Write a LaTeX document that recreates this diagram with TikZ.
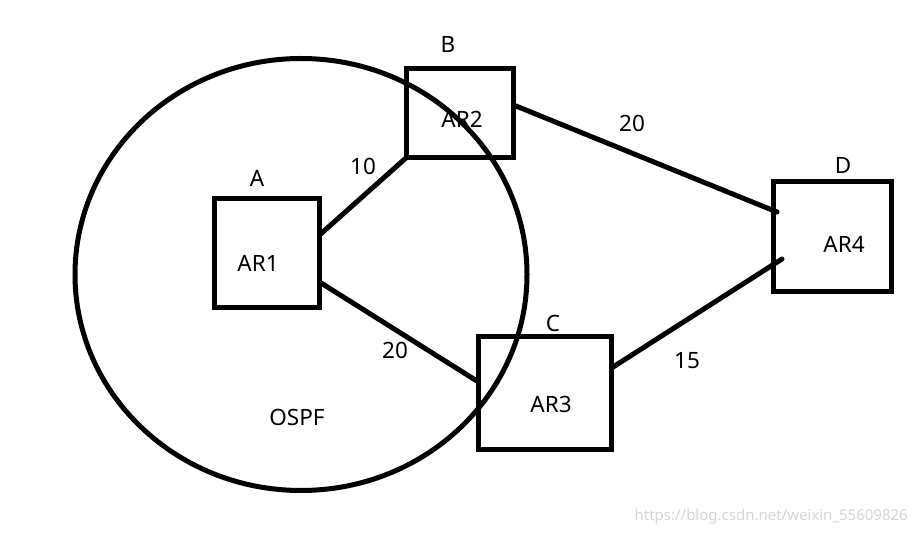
\documentclass[tikz,border=0pt]{standalone}
\usepackage{fontspec}
\setmainfont{Noto Sans}
\usetikzlibrary{calc}
\begin{document}
\begin{tikzpicture}[x=1pt,y=1pt,
  router/.style={draw, line width=5pt, inner sep=0pt, outer sep=0pt},
  link/.style={line width=5pt, line cap=round},
  lbl/.style={font=\fontsize{22.5}{26}\selectfont, inner sep=0pt}]
\useasboundingbox (0,0) rectangle (918,535);
\fill[white] (0,0) rectangle (918,535);
% OSPF area
\draw[line width=5pt] (301,260.5) ellipse [x radius=226, y radius=216];
% routers
\node[router, minimum width=105pt, minimum height=109pt] (r1) at (267,282) {};
\node[router, minimum width=107pt, minimum height=89pt] (r2) at (460,422) {};
\node[router, minimum width=133pt, minimum height=113pt] (r3) at (545,142) {};
\node[router, minimum width=117.5pt, minimum height=110pt] (r4) at (832.25,298.5) {};
% router names
\node[lbl] (t1) at (258,272) {AR1};
\node[lbl] (t2) at (462,416) {AR2};
\node[lbl] (t3) at (551,131) {AR3};
\node[lbl] (t4) at (844,291) {AR4};
% letters
\node[lbl] (la) at (257,357) {A};
\node[lbl] (lb) at (448,491) {B};
\node[lbl] (lc) at (553,212) {C};
\node[lbl] (ld) at (843,370) {D};
% links
\draw[link] ([yshift=18pt]r1.east) -- (r2.south west);
\draw[link] ([yshift=-29pt]r1.east) -- ([yshift=11pt]r3.west);
\draw[link] ([yshift=8pt]r2.east) -- ([xshift=3.5pt,yshift=24.5pt]r4.west);
\draw[link] ([yshift=25pt]r3.east) -- ([xshift=8.5pt,yshift=-22.5pt]r4.west);
% costs
\node[lbl] (c1) at (363,369) {10};
\node[lbl] (c2) at (395,185) {20};
\node[lbl] (c3) at (632,412) {20};
\node[lbl] (c4) at (687,174) {15};
\node[lbl] (ospf) at (297,118) {OSPF};
% watermark
\node[font=\fontsize{15}{18}\selectfont, text=black!16, inner sep=0pt, anchor=east] (wm) at (908,18) {https://blog.csdn.net/weixin\_55609826};
\end{tikzpicture}
\end{document}
